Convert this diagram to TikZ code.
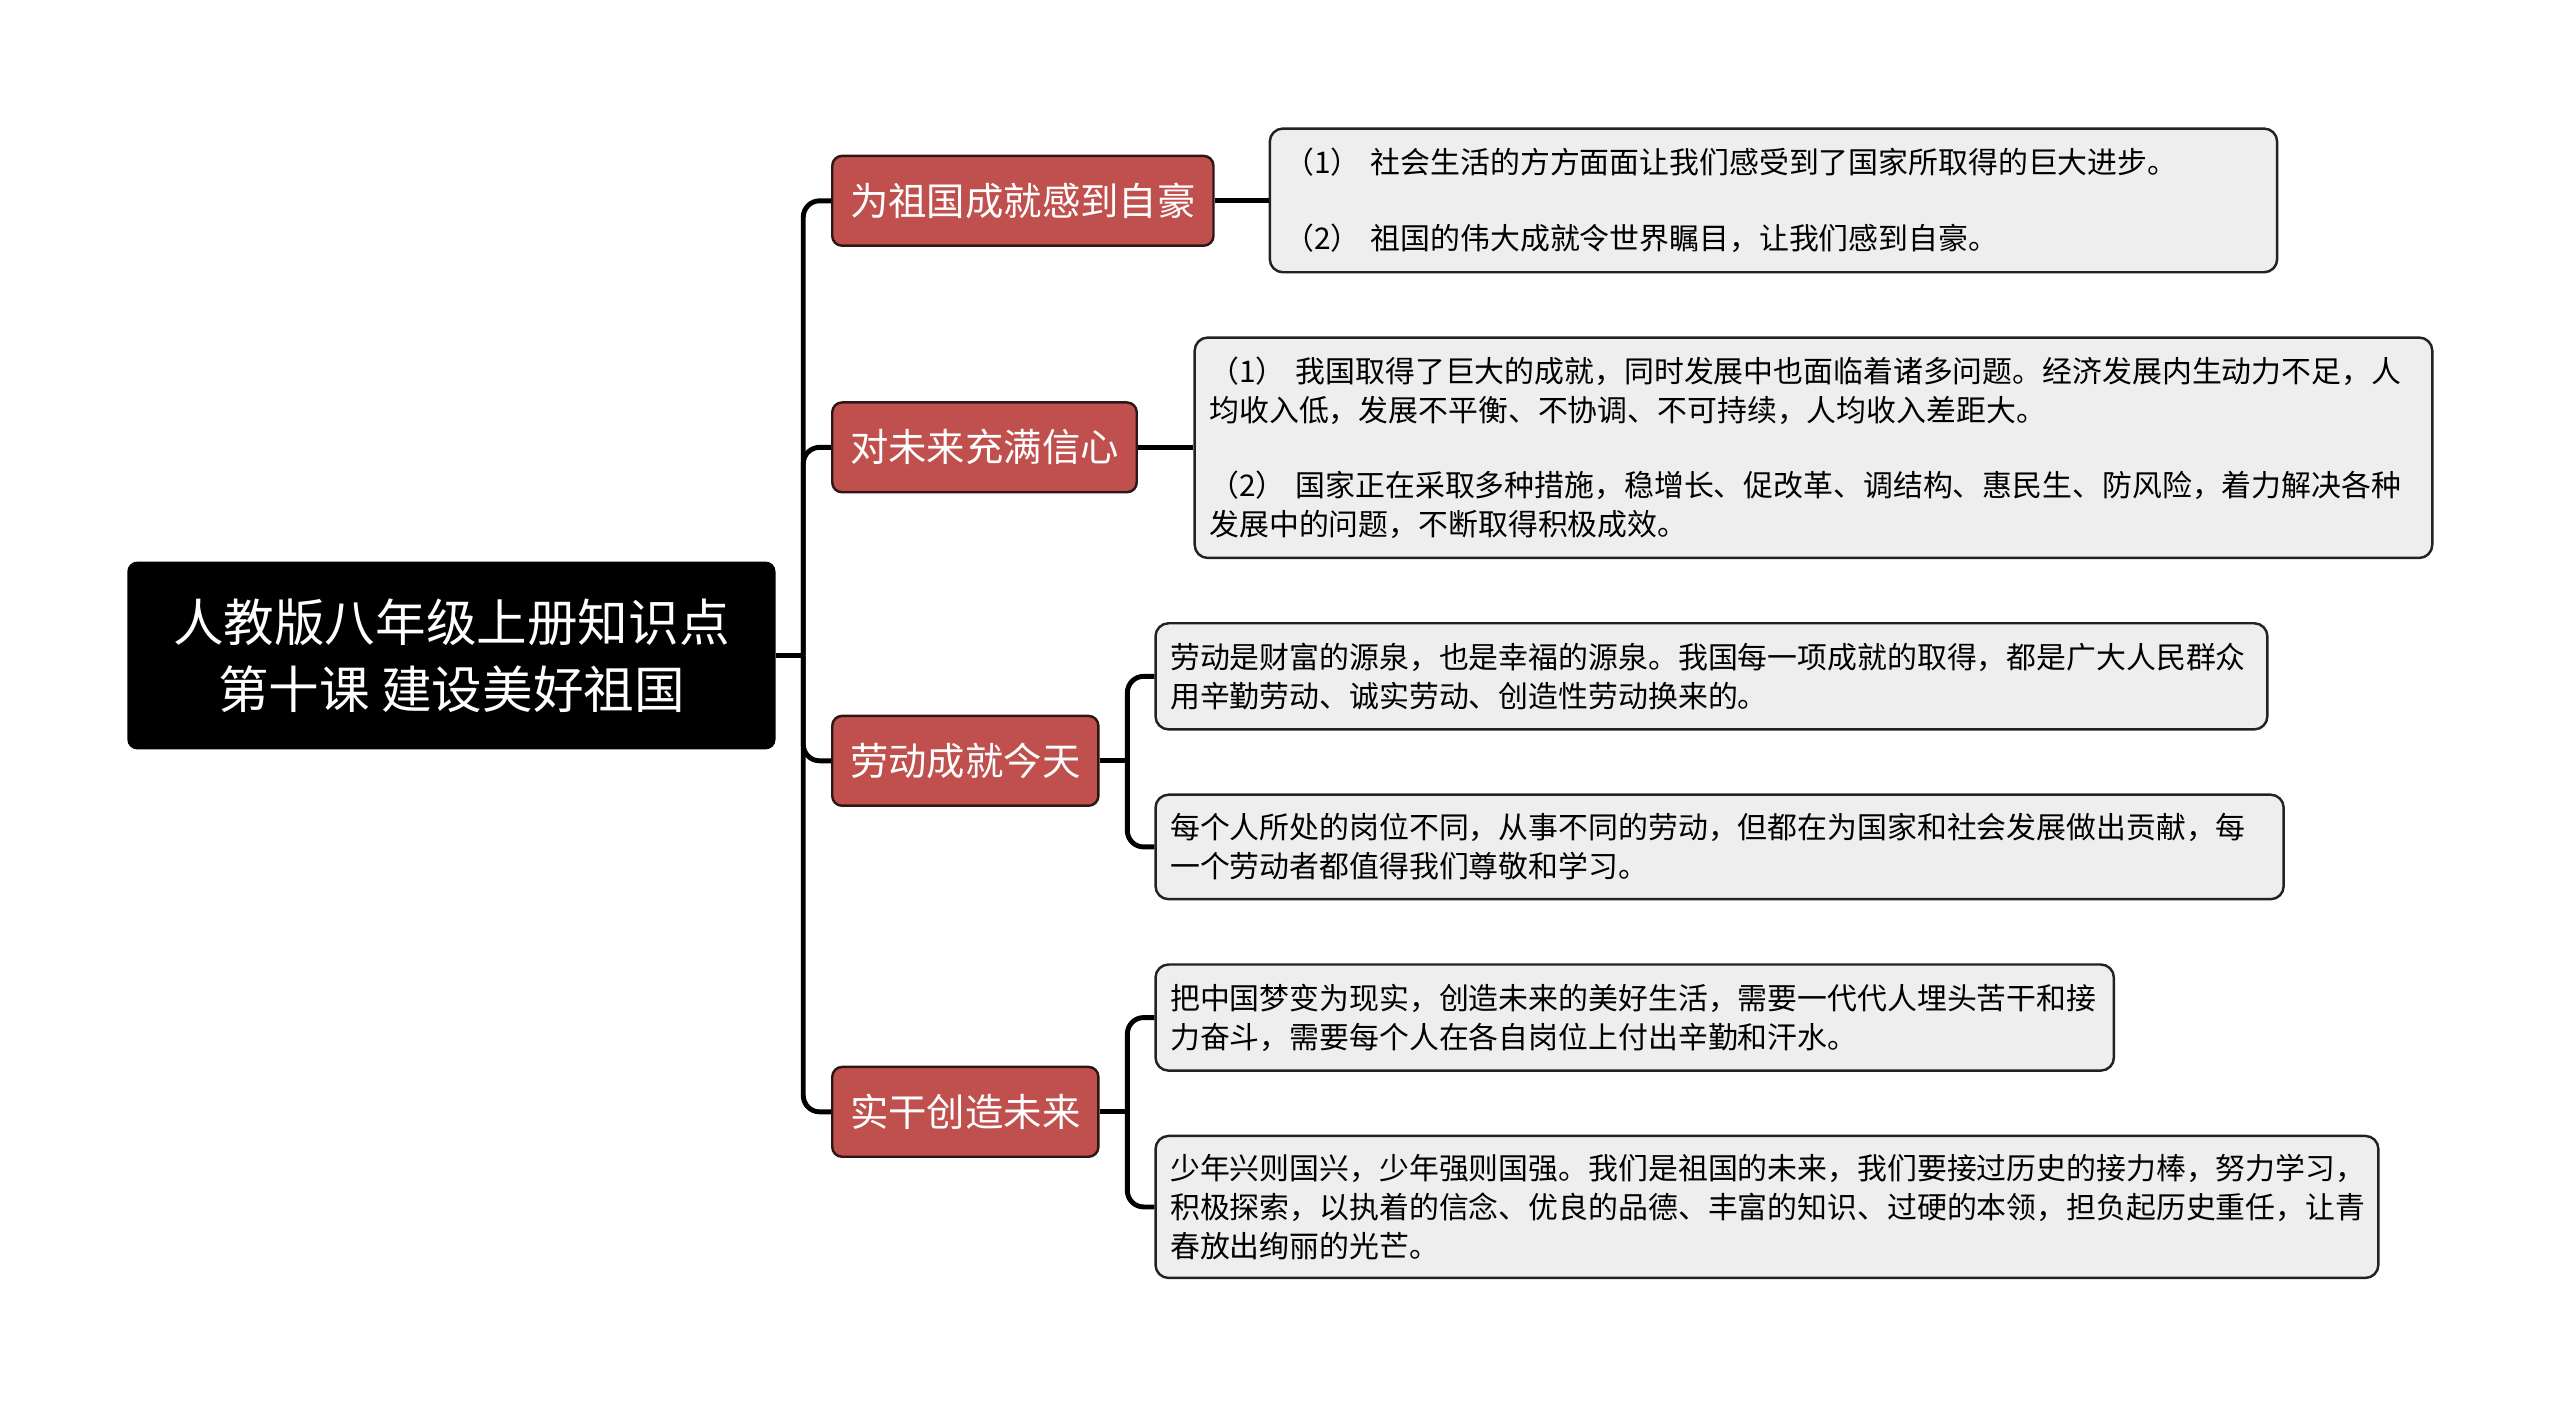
\documentclass[tikz,border=0pt]{standalone}
\usepackage{fontspec}
\setmainfont{Noto Sans CJK SC}
\usepackage{tikz}
\usetikzlibrary{positioning,calc}
\definecolor{topicred}{RGB}{192,80,77}
\definecolor{topicedge}{RGB}{45,22,22}
\definecolor{leaffill}{RGB}{238,238,238}
\definecolor{leafedge}{RGB}{34,34,34}

\begin{document}
\begin{tikzpicture}[x=1pt, y=-1pt, line join=round]
\tikzset{
  root/.style={fill=black, text=white, rounded corners=6pt, align=center, minimum width=397pt, minimum height=115pt, font=\fontsize{31}{41}\selectfont},
  t/.style={draw=topicedge, line width=1.5pt, fill=topicred, text=white, rounded corners=6pt, inner xsep=11pt, minimum height=55pt, anchor=west, font=\fontsize{23.5}{28}\selectfont},
  leaf/.style={draw=leafedge, line width=1.5pt, fill=leaffill, rounded corners=8pt, align=left, inner xsep=9pt, inner ysep=0pt, anchor=north west, font=\fontsize{18.3}{24}\selectfont},
  link/.style={line width=3pt, rounded corners=10pt}
}
\useasboundingbox (0,0) rectangle (1568,861);

\node[root] (root) at (276.5,401.5) {人教版八年级上册知识点\\第十课 建设美好祖国};

\node[t] (t1) at (509,123) {为祖国成就感到自豪};
\node[t] (t2) at (509,274) {对未来充满信心};
\node[t] (t3) at (509,466) {劳动成就今天};
\node[t] (t4) at (509,681) {实干创造未来};

\node[leaf, text width=599pt, minimum height=88pt] (l1) at (777,78)
  {（1）~社会生活的方方面面让我们感受到了国家所取得的巨大进步。\\[23pt]（2）~祖国的伟大成就令世界瞩目，让我们感到自豪。};
\node[leaf, text width=740pt, minimum height=135pt] (l2) at (731,206)
  {（1）~我国取得了巨大的成就，同时发展中也面临着诸多问题。经济发展内生动力不足，人\\均收入低，发展不平衡、不协调、不可持续，人均收入差距大。\\[22pt]（2）~国家正在采取多种措施，稳增长、促改革、调结构、惠民生、防风险，着力解决各种\\发展中的问题，不断取得积极成效。};
\node[leaf, text width=663pt, minimum height=65pt] (l3) at (707,381)
  {劳动是财富的源泉，也是幸福的源泉。我国每一项成就的取得，都是广大人民群众\\用辛勤劳动、诚实劳动、创造性劳动换来的。};
\node[leaf, text width=673pt, minimum height=64pt] (l4) at (707,486)
  {每个人所处的岗位不同，从事不同的劳动，但都在为国家和社会发展做出贡献，每\\一个劳动者都值得我们尊敬和学习。};
\node[leaf, text width=569pt, minimum height=65pt] (l5) at (707,590)
  {把中国梦变为现实，创造未来的美好生活，需要一代代人埋头苦干和接\\力奋斗，需要每个人在各自岗位上付出辛勤和汗水。};
\node[leaf, text width=731pt, minimum height=87pt] (l6) at (707,695)
  {少年兴则国兴，少年强则国强。我们是祖国的未来，我们要接过历史的接力棒，努力学习，\\积极探索，以执着的信念、优良的品德、丰富的知识、过硬的本领，担负起历史重任，让青\\春放出绚丽的光芒。};

\coordinate (hub) at (492,401.5);
\draw[link] (root.east) -- (hub);
\foreach \b in {t1,t2,t3,t4}
  \draw[link] (hub) |- (\b.west);

\draw[link] (t1.east) -- (t1.east -| l1.west);
\draw[link] (t2.east) -- (t2.east -| l2.west);

\coordinate (h3) at ($(t3.east)+(17,0)$);
\draw[link] (t3.east) -- (h3);
\draw[link] (h3) |- (l3.west);
\draw[link] (h3) |- (l4.west);

\coordinate (h4) at ($(t4.east)+(17,0)$);
\draw[link] (t4.east) -- (h4);
\draw[link] (h4) |- (l5.west);
\draw[link] (h4) |- (l6.west);
\end{tikzpicture}
\end{document}
